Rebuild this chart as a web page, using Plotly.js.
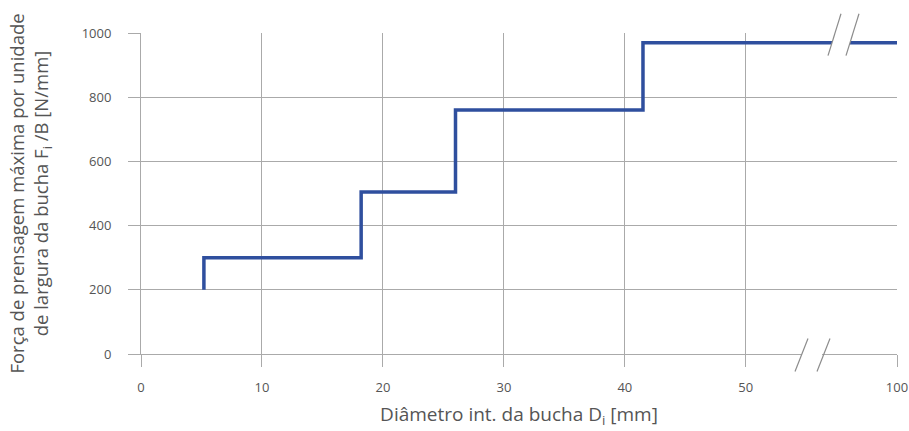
<!DOCTYPE html>
<html>
<head>
<meta charset="utf-8">
<script src="https://cdn.plot.ly/plotly-3.0.1.min.js"></script>
<style>html,body{margin:0;padding:0;background:#fff}#chart{width:909px;height:431px}</style>
</head>
<body>
<div id="chart"></div>
<script>
// Step data: inner bushing diameter [mm] vs max press force per width [N/mm]
const diameters = [5.2, 5.2, 18.2, 26, 41.5, 100];
const forces = [200, 300, 505, 760, 970, 970];
const tickValues = [0, 10, 20, 30, 40, 50, 100];
const tickLabels = ['0', '10', '20', '30', '40', '50', '100'];
const yTicks = [0, 200, 400, 600, 800, 1000];

// broken axis: values above 50 are compressed into the segment after the break
const BREAK_START = 50, BREAK_END = 100, SEGMENT = 12.5;
function axisPos(v) {
  if (v <= BREAK_START) return v;
  return BREAK_START + (v - BREAK_START) / (BREAK_END - BREAK_START) * SEGMENT;
}

const L = 141, R = 897, T = 33.3, B = 354.5;
const W = R - L, H = B - T;
const px = x => (x - L) / W;
const py = y => (B - y) / H;

const grey = '#8c8c8c';
const shapes = [
  // gap in the data line at the top break
  {type:'rect', xref:'paper', yref:'paper', x0:px(832), x1:px(850), y0:py(48), y1:py(39), fillcolor:'#fff', line:{width:0}, layer:'above'},
  // gap in the x-axis line
  {type:'rect', xref:'paper', yref:'paper', x0:px(802), x1:px(822), y0:py(357), y1:py(352), fillcolor:'#fff', line:{width:0}, layer:'above'},
  // slashes
  {type:'line', xref:'paper', yref:'paper', x0:px(828), y0:py(56), x1:px(841), y1:py(14), line:{color:grey, width:1.2}, layer:'above'},
  {type:'line', xref:'paper', yref:'paper', x0:px(846), y0:py(56), x1:px(859), y1:py(14), line:{color:grey, width:1.2}, layer:'above'},
  {type:'line', xref:'paper', yref:'paper', x0:px(795), y0:py(372), x1:px(808), y1:py(339), line:{color:grey, width:1.2}, layer:'above'},
  {type:'line', xref:'paper', yref:'paper', x0:px(817), y0:py(372), x1:px(830), y1:py(339), line:{color:grey, width:1.2}, layer:'above'}
];

const trace = {
  x: diameters.map(axisPos),
  y: forces,
  type: 'scatter',
  mode: 'lines',
  line: {shape: 'hv', color: '#2f4f9e', width: 3.5},
  hoverinfo: 'skip'
};

const font = {family: '"Open Sans", "Noto Sans", sans-serif', color: '#555'};

const layout = {
  width: 909, height: 431,
  margin: {l: L, r: 909 - R, t: T, b: 431 - B},
  paper_bgcolor: '#fff', plot_bgcolor: '#fff',
  showlegend: false,
  font: font,
  xaxis: {
    range: [0, axisPos(100)],
    tickvals: tickValues.map(axisPos),
    ticktext: tickLabels,
    showgrid: true, gridcolor: '#aaaaaa', gridwidth: 1,
    zeroline: false,
    showline: true, linecolor: '#aaaaaa', linewidth: 1,
    ticks: 'outside', ticklen: 12, tickcolor: '#aaaaaa', tickwidth: 1,
    tickfont: {family: font.family, size: 13, color: '#555'},
    ticklabelstandoff: 9,
    title: {text: 'Diâmetro int. da bucha D<sub>i</sub> [mm]', font: {family: font.family, size: 19, color: '#555'}, standoff: 13},
    automargin: false, fixedrange: true
  },
  yaxis: {
    range: [0, 1000],
    tickvals: yTicks,
    showgrid: true, gridcolor: '#aaaaaa', gridwidth: 1,
    zeroline: false,
    showline: true, linecolor: '#aaaaaa', linewidth: 1,
    ticks: 'outside', ticklen: 12, tickcolor: '#aaaaaa', tickwidth: 1,
    tickfont: {family: font.family, size: 13, color: '#555'},
    ticklabelstandoff: 14,
    title: {text: 'Força de prensagem máxima por unidade<br>de largura da bucha F<sub>i</sub> /B [N/mm]', font: {family: font.family, size: 18.5, color: '#555'}, standoff: 28},
    automargin: false, fixedrange: true
  },
  shapes: shapes
};

Plotly.newPlot('chart', [trace], layout, {displayModeBar: false, staticPlot: true});
</script>
</body>
</html>
